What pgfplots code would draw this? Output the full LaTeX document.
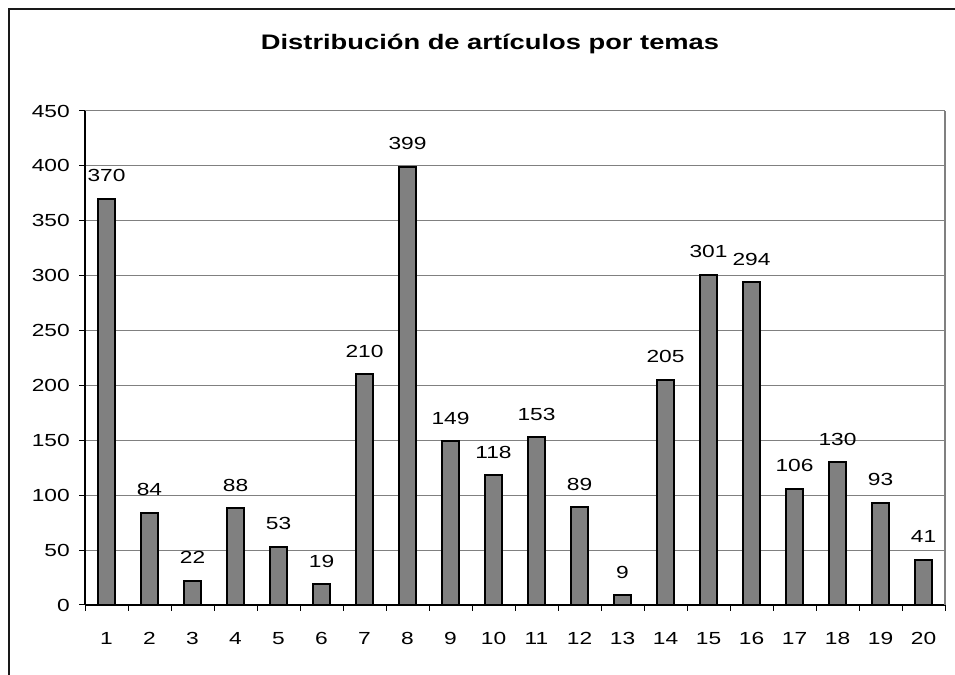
\documentclass[border=0pt]{standalone}
\usepackage{fontspec}
\setmainfont{Liberation Sans}[FakeStretch=1.3]
\usepackage{pgfplots}
\pgfplotsset{compat=1.18}
\definecolor{barfill}{HTML}{808080}
\definecolor{gridc}{HTML}{808080}
\begin{document}
\begin{tikzpicture}[x=1bp,y=1bp]
\useasboundingbox (0,0) rectangle (955,675);
\fill[white] (0,0) rectangle (955,675);
\draw[line width=1.3bp, black!90] (9,0) -- (9,666) -- (956,666);
\node[anchor=base, font=\bfseries\fontsize{21bp}{24bp}\selectfont] at (490,625) {Distribución de artículos por temas};
\begin{axis}[
  at={(85bp,70bp)}, anchor=south west, scale only axis,
  width=860bp, height=494bp,
  xmin=0.5, xmax=20.5, ymin=0, ymax=450,
  ytick={0,50,...,450}, xtick={1,...,20},
  minor xtick={0.5,1.5,...,20.5},
  axis lines=left, axis line style={-, line width=1.3bp, black},
  tick align=outside, major tick length=6bp, minor tick length=6bp,
  major x tick style={draw=none},
  minor x tick style={draw=black, line width=1bp},
  major y tick style={draw=black, line width=1bp},
  ymajorgrids, major grid style={gridc, line width=1bp},
  /pgf/number format/assume math mode=true,
  tick label style={font=\fontsize{17.5bp}{20bp}\selectfont},
  xticklabel style={anchor=north, inner sep=0pt, yshift=-21bp},
  yticklabel style={anchor=east, inner sep=0pt, xshift=-9bp},
  ybar, bar width=16.5bp,
  nodes near coords,
  every node near coord/.append style={font=\fontsize{17.5bp}{20bp}\selectfont, anchor=base, inner sep=0pt, yshift=17bp},
  clip=false,
]
\addplot[fill=barfill, draw=black, line width=2bp] coordinates {
(1,370) (2,84) (3,22) (4,88) (5,53) (6,19) (7,210) (8,399) (9,149) (10,118)
(11,153) (12,89) (13,9) (14,205) (15,301) (16,294) (17,106) (18,130) (19,93) (20,41)
};
\draw[gridc, line width=2bp] (rel axis cs:1,0) -- (rel axis cs:1,1);
\end{axis}
\end{tikzpicture}
\end{document}
